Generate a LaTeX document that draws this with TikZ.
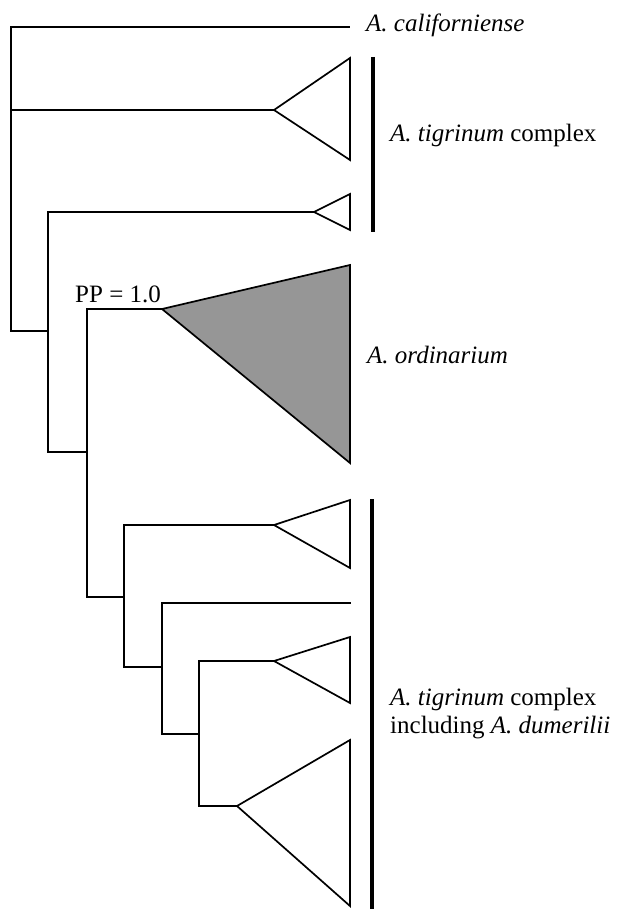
\documentclass[tikz,border=0pt]{standalone}
\usepackage{fontspec}
\setmainfont{Liberation Serif}
\usetikzlibrary{positioning, calc}

\begin{document}
\begin{tikzpicture}[
  x=1pt, y=-1pt,
  font=\fontsize{25}{28}\selectfont,
  branch/.style={line width=1.7pt, line cap=rect},
  clade/.style={draw, line width=1.7pt, line join=miter},
  bar/.style={line width=4pt},
  lbl/.style={anchor=base west, inner sep=0pt, align=left},
]
\useasboundingbox (0,0) rectangle (619,909);

% Internal nodes (x = depth, y = stem)
\coordinate (root) at (11,331);
\coordinate (n2) at (48,331);
\coordinate (n3) at (87,452);
\coordinate (n4) at (124,597);
\coordinate (n5) at (162,667);
\coordinate (n6) at (199,734);

% Tips
\coordinate (t1) at (349,27);
\coordinate (t2) at (274,110);
\coordinate (t3) at (314,212);
\coordinate (t4) at (162,309);
\coordinate (t5) at (274,525);
\coordinate (t6) at (350,603);
\coordinate (t7) at (274,661);
\coordinate (t8) at (237,806);

% Branches
\draw[branch] (t1) -| (root) |- (n2);
\draw[branch] (root) |- (t2);
\draw[branch] (t3) -| (n2) |- (n3);
\draw[branch] (t4) -| (n3) |- (n4);
\draw[branch] (t5) -| (n4) |- (n5);
\draw[branch] (t6) -| (n5) |- (n6);
\draw[branch] (t7) -| (n6) |- (t8);

% Collapsed clades
\foreach \t/\a/\b in {t2/58/160, t3/194/230, t5/500/568, t7/637/703, t8/740/906} {
  \draw[clade] (\t) -- (350,\a) -- (350,\b) -- cycle;
}
\draw[clade, fill=black!41] (t4) -- (350,265) -- (350,463) -- cycle;

% Group bars
\coordinate (b1a) at (373,57);
\coordinate (b1b) at (373,232);
\coordinate (b2a) at (372,499);
\coordinate (b2b) at (372,909);
\draw[bar] (b1a) -- (b1b);
\draw[bar] (b2a) -- (b2b);

% Labels
\node[lbl] (cal) at (366,32) {\textit{A. californiense}};
\node[lbl] (tig) at (390,142) {\textit{A. tigrinum} complex};
\node[lbl] (ord) at (367,363) {\textit{A. ordinarium}};
\node[lbl] (dum) at (390,733) {\textit{A. tigrinum} complex\\including \textit{A. dumerilii}};
\node[lbl] (pp) at (75,302) {PP = 1.0};

\end{tikzpicture}
\end{document}
